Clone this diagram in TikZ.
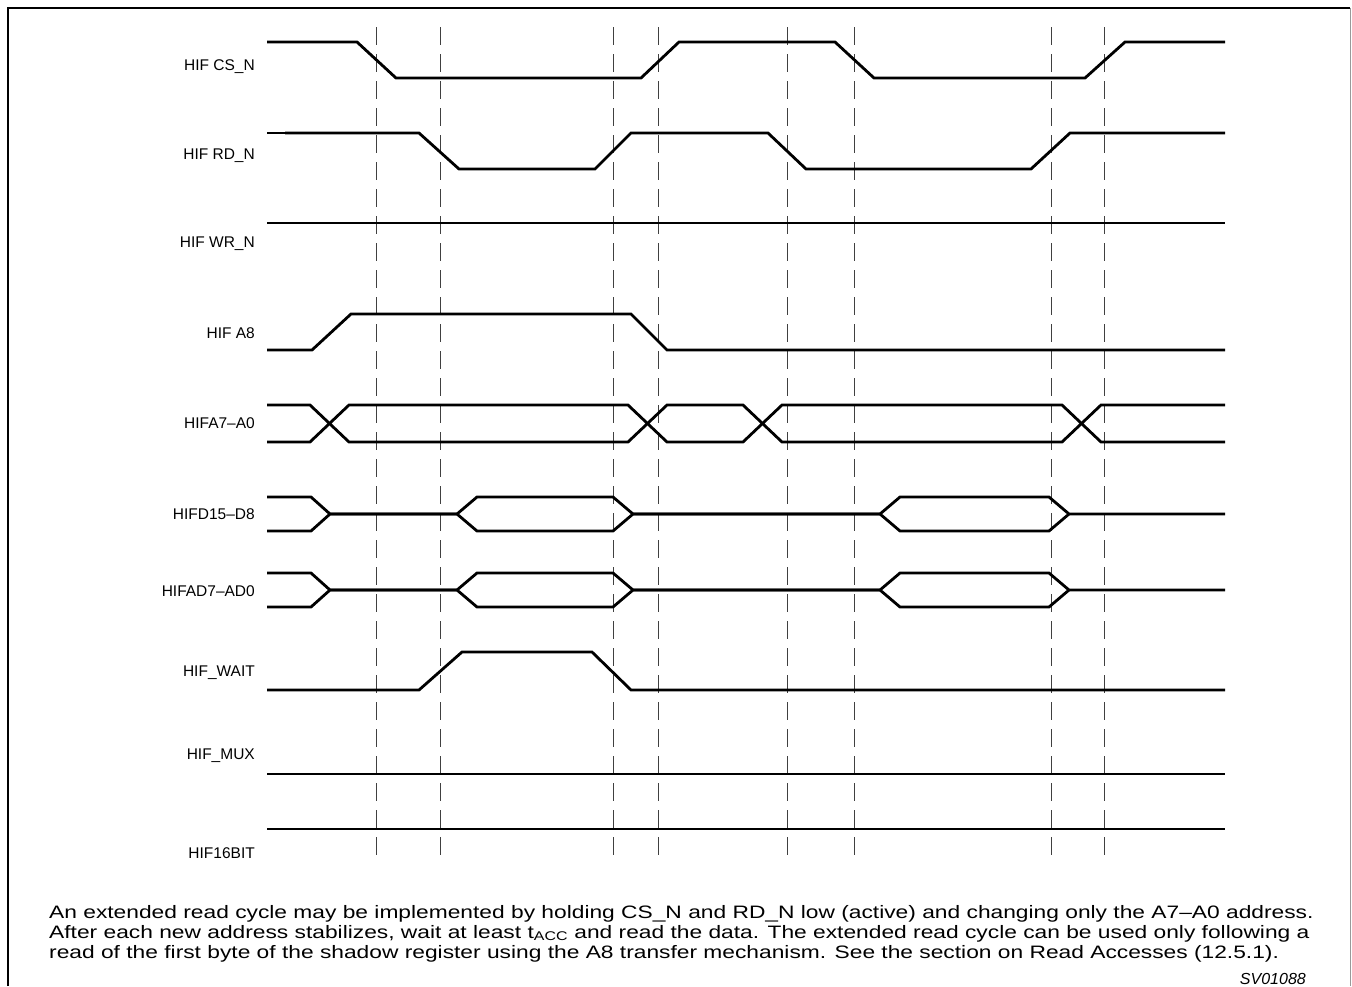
\documentclass[tikz,border=0pt]{standalone}
\usepackage{fontspec}
\setmainfont{Liberation Sans}
\newfontfamily\notafont[Ligatures=TeX, FakeStretch=1.265]{Liberation Sans}
\begin{document}
\begin{tikzpicture}[x=1pt,y=-1pt,
    senal/.style={line width=2.8pt, line join=miter},
    guia/.style={line width=1pt, black!75, dash pattern=on 18pt off 9pt},
    etiqueta/.style={anchor=base east, inner sep=0pt, font=\fontsize{15.5}{18}\selectfont},
    texto/.style={anchor=base west, inner sep=0pt, font=\notafont\fontsize{18}{20}\selectfont}]
    \useasboundingbox (0,0) rectangle (1352,986);

    % Marco
    \draw[line width=2pt] (8,986) -- (8,8) -- (1350,8);
    \draw[line width=1pt, black!40] (1350,8) -- (1350,986);

    % Lineas de referencia punteadas
    \foreach \x in {376,440,613,658,787,854,1051,1104}
        \draw[guia] (\x,27) -- (\x,858);

    % Nombres de las senales
    \node[etiqueta] (lcs)   at (255,70)  {HIF CS\_N};
    \node[etiqueta] (lrd)   at (255,159) {HIF RD\_N};
    \node[etiqueta] (lwr)   at (255,247) {HIF WR\_N};
    \node[etiqueta] (la8)   at (255,338) {HIF A8};
    \node[etiqueta] (la70)  at (255,428) {HIFA7--A0};
    \node[etiqueta] (ld158) at (255,519) {HIFD15--D8};
    \node[etiqueta] (lad70) at (255,596) {HIFAD7--AD0};
    \node[etiqueta] (lwait) at (255,676) {HIF\_WAIT};
    \node[etiqueta] (lmux)  at (255,759) {HIF\_MUX};
    \node[etiqueta] (l16)   at (255,858) {HIF16BIT};

    % CS_N
    \draw[senal] (267,42) -- (357,42) -- (396,78) -- (641,78) -- (679,42) -- (835,42)
        -- (874,78) -- (1085,78) -- (1125,42) -- (1225,42);

    % RD_N
    \draw[line width=2pt] (267,133) -- (286,133);
    \draw[senal] (285,133) -- (419,133) -- (459,169) -- (595,169) -- (631,133) -- (768,133)
        -- (806,169) -- (1031,169) -- (1070,133) -- (1225,133);

    % WR_N
    \draw[senal] (267,223) -- (1225,223);

    % A8
    \draw[senal] (267,350) -- (312,350) -- (351,314) -- (631,314) -- (667,350) -- (1225,350);

    % A7-A0 (bus)
    \draw[senal] (267,405) -- (310,405) -- (349,442) -- (628,442) -- (667,405) -- (743,405)
        -- (782,442) -- (1062,442) -- (1101,405) -- (1225,405);
    \draw[senal] (267,442) -- (310,442) -- (349,405) -- (628,405) -- (667,442) -- (743,442)
        -- (782,405) -- (1062,405) -- (1101,442) -- (1225,442);

    % D15-D8 (bus, alta impedancia al centro)
    \draw[senal] (267,497) -- (311,497) -- (330,514) -- (457,514) -- (477,497) -- (613,497)
        -- (633,514) -- (880,514) -- (900,497) -- (1049,497) -- (1069,514) -- (1225,514);
    \draw[senal] (267,531) -- (311,531) -- (330,514) -- (457,514) -- (477,531) -- (613,531)
        -- (633,514) -- (880,514) -- (900,531) -- (1049,531) -- (1069,514);

    % AD7-AD0
    \draw[senal] (267,573) -- (311,573) -- (330,590) -- (457,590) -- (477,573) -- (613,573)
        -- (633,590) -- (880,590) -- (900,573) -- (1049,573) -- (1069,590) -- (1225,590);
    \draw[senal] (267,607) -- (311,607) -- (330,590) -- (457,590) -- (477,607) -- (613,607)
        -- (633,590) -- (880,590) -- (900,607) -- (1049,607) -- (1069,590);

    % WAIT
    \draw[senal] (267,690) -- (419,690) -- (462,652) -- (592,652) -- (631,690) -- (1225,690);

    % MUX y 16BIT
    \draw[senal] (267,774) -- (1225,774);
    \draw[senal] (267,829) -- (1225,829);

    % Nota
    \node[texto] (nota1) at (49,918) {An extended read cycle may be implemented by holding CS\_N and RD\_N low (active) and changing only the A7--A0 address.};
    \node[texto] (nota2) at (49,938) {After each new address stabilizes, wait at least t\textsubscript{ACC} and read the data. The extended read cycle can be used only following a};
    \node[texto] (nota3) at (49,958) {read of the first byte of the shadow register using the A8 transfer mechanism. See the section on Read Accesses (12.5.1).};
    \node[anchor=base east, inner sep=0pt, font=\fontsize{16}{18}\selectfont\itshape] (ref) at (1306,984) {SV01088};
\end{tikzpicture}
\end{document}
